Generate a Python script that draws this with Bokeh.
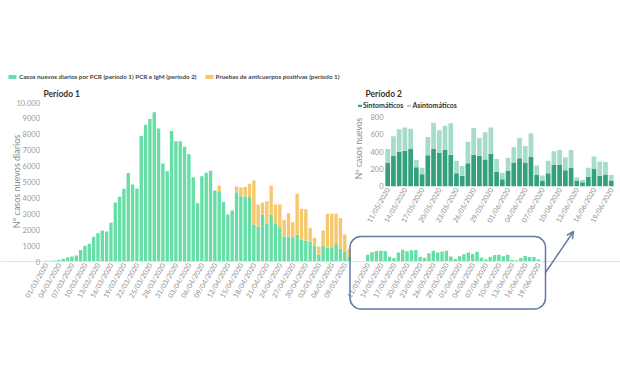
from math import pi
from bokeh.plotting import figure
from bokeh.models import (Range1d, LinearAxis, FixedTicker, ColumnDataSource, Legend,
                          LegendItem, BoxAnnotation, Arrow, OpenHead)
from bokeh.core.properties import value
from bokeh.embed import file_html
from bokeh.resources import INLINE

# ---------------- data ----------------
# Período 1: 01/03/2020 .. 10/05/2020 (71 days)
p1_pcr = [40, 40, 60, 90, 170, 250, 320, 380, 720, 990,
          1110, 1550, 1780, 1950, 1890, 2430, 3710, 4070, 4570, 5560,
          4840, 4590, 7900, 8600, 8970, 9390, 8360, 6170, 5670, 8210,
          7560, 7570, 7220, 6750, 5300, 3670, 5360, 5580, 5710, 4460,
          4420, 3750, 2950, 3200, 4360, 4100, 4090, 4050, 2330, 2200,
          2940, 2370, 2940, 2400, 2160, 1570, 1570, 1530, 1680, 1360,
          1320, 1260, 1010, 420, 1010, 860, 900, 1150, 800, 650, 270]
p1_anticuerpos = [0] * 40 + [
          360, 0, 0, 0, 360, 550, 590, 840, 2760, 1380,
          760, 1420, 1840, 1180, 1420, 1050, 1470, 940, 2580, 1950,
          1970, 860, 480, 520, 940, 2140, 2100, 1850, 1930, 1050, 530]
p1_tick_labels = ["01/03/2020", "04/03/2020", "07/03/2020", "10/03/2020", "13/03/2020",
                  "16/03/2020", "19/03/2020", "22/03/2020", "25/03/2020", "28/03/2020",
                  "31/03/2020", "03/04/2020", "06/04/2020", "09/04/2020", "12/04/2020",
                  "15/04/2020", "18/04/2020", "21/04/2020", "24/04/2020", "27/04/2020",
                  "30/04/2020", "03/05/2020", "06/05/2020", "09/05/2020"]
p1_y_ticks = [0, 1000, 2000, 3000, 4000, 5000, 6000, 7000, 8000, 9000, 10000]

# Período 2: 11/05/2020 .. 19/06/2020 (40 days)
p2_sintomaticos = [270, 350, 400, 410, 430, 220, 140, 360, 435, 385,
                   420, 365, 150, 120, 265, 365, 350, 310, 375, 165,
                   80, 175, 275, 325, 270, 340, 130, 65, 150, 245,
                   245, 185, 215, 60, 45, 110, 200, 120, 135, 65]
p2_asintomaticos = [160, 230, 260, 270, 235, 85, 75, 210, 300, 265,
                    280, 365, 145, 115, 250, 310, 210, 315, 305, 150,
                    75, 155, 180, 235, 195, 275, 110, 60, 145, 160,
                    175, 150, 205, 45, 30, 105, 145, 165, 145, 65]
p2_tick_labels = ["11/05/2020", "14/05/2020", "17/05/2020", "20/05/2020", "23/05/2020",
                  "26/05/2020", "29/05/2020", "01/06/2020", "04/06/2020", "07/06/2020",
                  "10/06/2020", "13/06/2020", "16/06/2020", "19/06/2020"]
p2_y_ticks = [0, 200, 400, 600, 800]

# ---------------- styles ----------------
GREEN = "#66DEA6"
YELLOW = "#F6C86E"
DARK = "#35A07E"
LIGHT = "#A6DCCB"
BOX = "#6478A3"
GREY = "#8C8C8C"
FONT = "Lato"

W, H = 620, 368
LEFT, RIGHT, TOP, BOTTOM = 0, 620, 0, 368   # frame in page pixels


def lin(pa, va, pb, vb):
    k = (vb - va) / (pb - pa)
    return lambda px: va + (px - pa) * k


n1 = len(p1_pcr)
n2 = len(p2_sintomaticos)
fx = lin(45.5, 0, 348.6, n1 - 1)          # período 1 days
fy = lin(261, 0, 102, 10000)              # período 1 values
fm = lin(367.2, 0, 537.8, n2 - 1)         # mini chart days
f2x = lin(387.2, 0, 610.7, n2 - 1)        # período 2 days
f2y = lin(185.7, 0, 116.7, 800)           # período 2 values

p = figure(width=W, height=H, output_backend="svg", toolbar_location=None,
           x_range=Range1d(fx(LEFT), fx(RIGHT)), y_range=Range1d(fy(BOTTOM), fy(TOP)),
           x_axis_location=None, y_axis_location=None, min_border=0,
           outline_line_color=None)
p.xgrid.grid_line_color = None
p.ygrid.grid_line_color = None
p.extra_x_ranges = {"mini": Range1d(fm(LEFT), fm(RIGHT)),
                    "p2x": Range1d(f2x(LEFT), f2x(RIGHT))}
p.extra_y_ranges = {"p2y": Range1d(f2y(BOTTOM), f2y(TOP))}

# ---------- período 1 bars ----------
src1 = ColumnDataSource(dict(
    x=list(range(n1)), pcr=p1_pcr,
    tot=[a + b for a, b in zip(p1_pcr, p1_anticuerpos)]))
r_pcr = p.vbar(x="x", top="pcr", bottom=0, width=0.78, fill_color=GREEN,
               line_color=None, source=src1)
r_anti = p.vbar(x="x", top="tot", bottom="pcr", width=0.78, fill_color=YELLOW,
                line_color=None, source=src1)

# ---------- mini chart (período 2 at período 1 scale) ----------
src2 = ColumnDataSource(dict(
    x=list(range(n2)), sint=p2_sintomaticos,
    tot=[a + b for a, b in zip(p2_sintomaticos, p2_asintomaticos)]))
p.vbar(x="x", top="tot", bottom=0, width=0.78, fill_color=GREEN, line_color=None,
       source=src2, x_range_name="mini")

# ---------- período 2 bars ----------
r_sint = p.vbar(x="x", top="sint", bottom=0, width=0.82, fill_color=DARK, line_color=None,
                source=src2, x_range_name="p2x", y_range_name="p2y")
r_asint = p.vbar(x="x", top="tot", bottom="sint", width=0.82, fill_color=LIGHT,
                 line_color=None, source=src2, x_range_name="p2x", y_range_name="p2y")


def style_axis(ax, size="7px", color=GREY):
    ax.major_label_text_font = FONT
    ax.major_label_text_font_size = size
    ax.major_label_text_color = color
    ax.major_tick_line_color = None
    ax.minor_tick_line_color = None
    ax.major_tick_out = 0
    ax.major_tick_in = 0


# período 1 x axis
t1 = list(range(0, n1, 3))[:len(p1_tick_labels)]
ax1 = LinearAxis(ticker=FixedTicker(ticks=t1, minor_ticks=[]),
                 major_label_overrides={t: l for t, l in zip(t1, p1_tick_labels)},
                 fixed_location=0, major_label_orientation=pi / 3,
                 major_label_standoff=2, axis_line_color="#E2E2E2")
style_axis(ax1)
p.add_layout(ax1, "below")

# período 1 y axis
ay1 = LinearAxis(ticker=FixedTicker(ticks=p1_y_ticks, minor_ticks=[]),
                 major_label_overrides={10000: "10.000"},
                 fixed_location=fx(43.5), major_label_standoff=4, axis_line_color=None)
style_axis(ay1, size="7.5px", color="#999999")
p.add_layout(ay1, "left")

# mini x axis
tm = list(range(0, n2, 3))[:len(p2_tick_labels)]
axm = LinearAxis(x_range_name="mini", ticker=FixedTicker(ticks=tm, minor_ticks=[]),
                 major_label_overrides={t: l for t, l in zip(tm, p2_tick_labels)},
                 fixed_location=0, major_label_orientation=pi / 3,
                 major_label_standoff=2, axis_line_color=None)
style_axis(axm)
p.add_layout(axm, "below")

# período 2 axes
ax2 = LinearAxis(x_range_name="p2x", y_range_name="p2y",
                 ticker=FixedTicker(ticks=tm, minor_ticks=[]),
                 major_label_overrides={t: l for t, l in zip(tm, p2_tick_labels)},
                 fixed_location=0, major_label_orientation=pi / 3,
                 major_label_standoff=2, axis_line_color=None)
style_axis(ax2)
p.add_layout(ax2, "below")

ay2 = LinearAxis(x_range_name="p2x", y_range_name="p2y",
                 ticker=FixedTicker(ticks=p2_y_ticks, minor_ticks=[]),
                 fixed_location=f2x(385), major_label_standoff=2, axis_line_color=None)
style_axis(ay2, size="7.5px", color="#999999")
p.add_layout(ay2, "left")

# ---------- texts ----------
p.text(x=[fx(15.5)], y=[fy(181)], text=["Nº casos nuevos diarios"], angle=pi / 2,
       text_align="center", text_baseline="middle", text_font=value(FONT),
       text_font_size="9px", text_color="#8C8C8C")
p.text(x=[fx(358)], y=[fy(148)], text=["Nº casos nuevos"], angle=pi / 2,
       text_align="center", text_baseline="middle", text_font=value(FONT),
       text_font_size="8.5px", text_color="#8C8C8C")
p.text(x=[fx(43)], y=[fy(93.5)], text=["Período 1"], text_align="left",
       text_baseline="middle", text_font=value(FONT), text_font_size="8.5px",
       text_font_style="bold", text_color="#333333")
p.text(x=[fx(365)], y=[fy(93)], text=["Período 2"], text_align="left",
       text_baseline="middle", text_font=value(FONT), text_font_size="8.5px",
       text_font_style="bold", text_color="#333333")

# ---------- legends ----------
leg1 = Legend(items=[
    LegendItem(label="Casos nuevos diarios por PCR (período 1) PCR e IgM (período 2)",
               renderers=[r_pcr]),
    LegendItem(label="Pruebas de anticuerpos positivas (período 1)", renderers=[r_anti])],
    orientation="horizontal", location=(7, BOTTOM - 80), glyph_width=10, glyph_height=5,
    label_text_font=FONT, label_text_font_size="6.3px", label_text_font_style="bold",
    label_text_color="#444444", label_height=8, label_standoff=2, spacing=7,
    padding=0, margin=0, border_line_color=None, background_fill_alpha=0)
p.add_layout(leg1)

leg2 = Legend(items=[
    LegendItem(label="Sintomáticos", renderers=[r_sint]),
    LegendItem(label="Asintomáticos", renderers=[r_asint])],
    orientation="horizontal", location=(357, BOTTOM - 109), glyph_width=5, glyph_height=3,
    label_text_font=FONT, label_text_font_size="7px", label_text_font_style="bold",
    label_text_color="#333333", label_height=8, label_standoff=1, spacing=3,
    padding=0, margin=0, border_line_color=None, background_fill_alpha=0)
p.add_layout(leg2)

# ---------- zoom box and arrow ----------
box = BoxAnnotation(left=fx(349.5), right=fx(545), top=fy(236), bottom=fy(308.5),
                    fill_alpha=0, line_color=BOX, line_alpha=1.0, line_width=1.5,
                    border_radius=11)
p.add_layout(box)
p.add_layout(Arrow(x_start=fx(545), y_start=fy(272), x_end=fx(573), y_end=fy(231),
                   line_color=BOX, line_width=1.5,
                   end=OpenHead(size=7, line_color=BOX, line_width=1.5)))

open("out.html", "w").write(file_html(p, INLINE))
